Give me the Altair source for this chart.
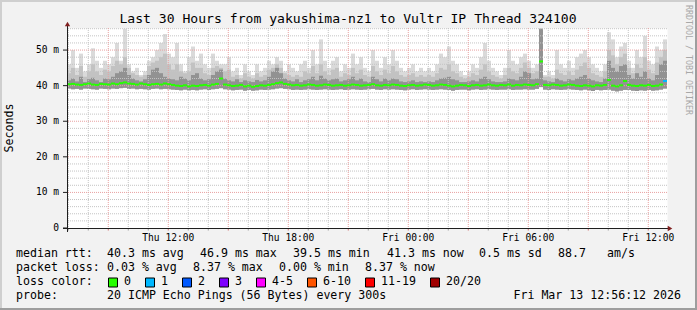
import altair as alt
import pandas as pd

MONO = "DejaVu Sans Mono"
OX, OY = 67, 28          # plot origin inside the 697x310 canvas
PW, PH = 600, 200

# ---------------- texts ----------------
title_text = "Last 30 Hours from yakushima-nz1 to Vultr IP Thread 324100"
y_title = "Seconds"
watermark = "RRDTOOL / TOBI OETIKER"

# ---------------- data ----------------
start_iso = "2026-03-12T06:56:12Z"
end_iso = "2026-03-13T12:56:12Z"
step_minutes = 12
y_max = 56.2

median_ms = [
    40.4, 40.5, 40.3, 40.2, 40.4, 40.6, 40.3, 40.2, 40.5, 40.4,
    40.3, 40.6, 40.4, 40.7, 40.9, 40.6, 40.5, 40.3, 40.6, 40.4,
    40.2, 40.4, 40.5, 40.3, 40.6, 40.4, 40.2, 40.0, 39.9, 40.1,
    39.8, 40.0, 39.9, 40.1, 40.2, 40.0, 40.3, 40.5, 42.0, 40.3,
    40.1, 39.9, 40.0, 40.2, 39.8, 40.0, 39.7, 39.9, 40.1, 40.0,
    40.2, 40.4, 40.7, 40.9, 40.5, 40.3, 40.1, 40.2, 40.0, 40.1,
    40.3, 40.2, 40.0, 40.1, 40.3, 40.2, 40.0, 40.1, 40.2, 40.0,
    40.1, 40.3, 40.2, 40.0, 40.1, 40.2, 40.4, 40.1, 40.0, 40.2,
    40.1, 40.3, 40.2, 40.0, 39.9, 40.1, 40.2, 40.0, 40.1, 40.3,
    40.2, 40.0, 40.1, 40.3, 40.2, 40.0, 39.8, 40.0, 40.2, 40.1,
    39.9, 40.1, 40.2, 40.0, 40.1, 40.3, 40.1, 40.0, 40.2, 40.1,
    40.3, 40.0, 40.2, 40.1, 40.3, 40.2, 40.1, 40.4, 46.8, 40.2,
    40.1, 40.3, 40.2, 40.0, 40.1, 40.3, 40.2, 40.0, 39.9, 40.1,
    40.0, 39.8, 40.1, 40.0, 40.2, 41.6, 40.0, 39.8, 40.1, 41.3,
    40.2, 40.0, 39.9, 40.1, 40.0, 40.2, 39.9, 40.0, 40.3, 41.3,
]
min_ms = [
    39.2, 39.0, 39.1, 38.9, 39.2, 39.1, 39.0, 38.9, 39.2, 39.1,
    39.0, 39.2, 39.1, 39.3, 39.4, 39.1, 39.2, 39.0, 39.1, 39.0,
    38.9, 39.1, 39.2, 39.0, 39.1, 39.0, 38.9, 38.8, 38.7, 38.9,
    38.7, 38.8, 38.7, 38.9, 39.0, 38.8, 39.0, 39.1, 39.3, 39.0,
    38.9, 38.7, 38.8, 38.9, 38.6, 38.8, 38.6, 38.7, 38.9, 38.8,
    38.9, 39.0, 39.2, 39.3, 39.1, 39.0, 38.8, 38.9, 38.8, 38.9,
    39.0, 38.9, 38.8, 38.9, 39.0, 38.9, 38.8, 38.9, 39.0, 38.8,
    38.9, 39.0, 38.9, 38.8, 38.9, 39.0, 39.1, 38.9, 38.8, 39.0,
    38.9, 39.0, 38.9, 38.8, 38.7, 38.9, 39.0, 38.8, 38.9, 39.0,
    38.9, 38.8, 38.9, 39.0, 38.9, 38.8, 38.6, 38.8, 38.9, 38.9,
    38.7, 38.9, 39.0, 38.8, 38.9, 39.0, 38.9, 38.8, 38.9, 38.9,
    39.0, 38.8, 38.9, 38.9, 39.0, 38.9, 38.9, 39.1, 39.6, 38.9,
    38.8, 39.0, 38.9, 38.8, 38.9, 39.0, 38.9, 38.8, 38.7, 38.9,
    38.7, 38.5, 38.8, 38.7, 38.8, 38.9, 38.6, 38.4, 38.6, 38.8,
    38.8, 38.6, 38.5, 38.7, 38.6, 38.8, 38.6, 38.7, 38.9, 39.2,
]
dark_top_ms = [
    41.5, 42.0, 41.2, 42.5, 41.0, 41.8, 42.2, 41.5, 41.0, 42.0,
    41.8, 42.5, 43.5, 44.0, 45.0, 43.0, 42.0, 41.5, 41.2, 41.8,
    43.0, 44.5, 45.0, 43.5, 42.5, 42.0, 41.8, 41.5, 42.5, 42.0,
    41.5, 43.0, 43.5, 42.0, 41.5, 41.8, 43.0, 44.0, 44.5, 42.0,
    41.5, 41.2, 41.8, 41.0, 41.5, 41.2, 41.0, 41.6, 41.2, 41.5,
    42.5, 44.0, 45.0, 43.5, 42.0, 41.5, 41.2, 41.8, 41.0, 41.5,
    41.8, 42.5, 41.5, 42.8, 42.0, 41.5, 41.8, 42.0, 41.2, 41.5,
    41.8, 42.5, 41.5, 42.0, 41.2, 41.0, 42.5, 41.8, 41.2, 42.0,
    41.5, 42.0, 41.8, 41.2, 41.0, 41.2, 41.5, 41.0, 41.2, 41.0,
    41.2, 41.0, 41.5, 42.0, 42.2, 42.5, 41.8, 41.5, 41.0, 41.0,
    41.2, 41.5, 41.2, 42.0, 42.5, 41.8, 41.2, 41.0, 41.0, 41.2,
    42.0, 41.8, 41.5, 42.5, 44.0, 43.5, 41.8, 42.0, 56.0, 41.5,
    41.2, 41.0, 42.0, 41.5, 41.2, 41.8, 41.5, 42.0, 42.5, 43.0,
    42.0, 41.5, 41.2, 41.0, 42.0, 47.0, 45.0, 44.0, 45.5, 46.0,
    43.0, 42.0, 43.5, 42.5, 44.0, 42.0, 41.5, 43.0, 46.0, 47.0,
]
mid_top_ms = [
    43.5, 45.0, 43.0, 45.5, 42.5, 44.0, 46.0, 44.0, 43.0, 44.5,
    44.0, 45.5, 47.0, 46.0, 48.0, 45.0, 43.5, 43.0, 42.5, 43.0,
    45.5, 46.5, 47.0, 48.0, 49.0, 46.0, 44.5, 46.0, 44.0, 43.5,
    44.0, 46.5, 45.0, 45.0, 43.5, 43.0, 45.0, 45.5, 45.0, 44.0,
    44.5, 42.5, 43.0, 42.0, 43.5, 42.5, 42.0, 43.5, 42.5, 43.0,
    44.5, 45.0, 46.0, 45.0, 43.5, 43.0, 42.5, 43.0, 42.5, 44.0,
    43.5, 45.5, 43.5, 46.0, 44.0, 43.0, 44.5, 45.0, 42.5, 43.5,
    43.0, 45.0, 43.5, 44.5, 43.0, 42.5, 45.5, 44.0, 43.0, 44.5,
    43.5, 45.5, 44.0, 43.0, 42.5, 43.0, 43.5, 42.5, 43.0, 42.5,
    43.0, 42.5, 43.5, 45.0, 44.5, 46.0, 44.0, 43.5, 42.5, 42.0,
    42.5, 43.5, 43.0, 44.5, 46.0, 44.0, 43.0, 42.5, 42.0, 43.0,
    45.0, 44.0, 43.5, 45.0, 46.5, 45.0, 43.5, 44.0, 56.0, 42.5,
    42.5, 42.0, 44.5, 43.5, 43.0, 44.0, 43.0, 44.5, 45.5, 46.5,
    45.0, 43.5, 43.0, 42.5, 44.0, 50.0, 48.5, 46.0, 48.0, 49.0,
    45.0, 43.5, 46.0, 45.0, 48.0, 44.5, 43.5, 46.5, 48.0, 50.0,
]
max_ms = [
    46, 50, 45, 49, 44, 46, 50.5, 47, 45, 47,
    46, 48, 52, 47, 56, 46, 44, 45, 43, 44,
    47, 48, 50, 52, 54.5, 49, 48, 52, 46, 44,
    48, 51, 47, 49, 46, 45, 49, 47, 46, 46,
    48, 44, 45, 43, 46, 44, 43, 46, 44, 45,
    47, 46, 48, 47, 44, 46, 45, 44, 46, 47,
    45, 50, 46, 53, 47, 45, 47, 48, 44, 46,
    45, 49, 46, 48, 45, 44, 50, 47, 45, 48,
    46, 50, 47, 45, 44, 45, 46, 44, 45, 44,
    45, 44, 46, 49, 48, 51, 47, 46, 44, 43,
    44, 46, 45, 48, 52, 47, 45, 44, 43, 45,
    50, 47, 46, 48, 49, 47, 45, 46, 56, 43,
    44, 43, 50, 46, 45, 47, 45, 48, 49, 50,
    48, 46, 45, 44, 46, 55, 53, 48, 51, 52,
    47, 45, 50, 48, 54, 47, 46, 51, 50, 53,
]
lost_pings = [0] * 149 + [1]

loss_labels = ["0", "1", "2", "3", "4-5", "6-10", "11-19", "20/20"]
loss_colors = ["#26ff00", "#00b8ff", "#0059ff", "#7e00ff", "#ff00ff", "#ff5500", "#ff0000", "#a10000"]
loss_upper = [0, 1, 2, 3, 5, 10, 19, 20]

y_label_values = [0, 10, 20, 30, 40, 50]
y_label_texts = ["0\u00a0\u00a0", "10 m", "20 m", "30 m", "40 m", "50 m"]
x_label_times = ["2026-03-12T12:00:00Z", "2026-03-12T18:00:00Z", "2026-03-13T00:00:00Z",
                 "2026-03-13T06:00:00Z", "2026-03-13T12:00:00Z"]
x_label_texts = ["Thu 12:00", "Thu 18:00", "Fri 00:00", "Fri 06:00", "Fri 12:00"]

rtt_texts = ["median rtt:", "40.3 ms avg", "46.9 ms max", "39.5 ms min", "41.3 ms now", "0.5 ms sd", "88.7", "am/s"]
loss_texts = ["packet loss:", "0.03 % avg", "8.37 % max", "0.00 % min", "8.37 % now"]
color_head = "loss color:"
probe_texts = ["probe:", "20 ICMP Echo Pings (56 Bytes) every 300s"]
stamp_text = "Fri Mar 13 12:56:12 2026"

# ---------------- layout (absolute pixel positions) ----------------
rtt_x = [16, 107, 200, 293, 387, 479, 558, 607]
loss_x = [16, 107, 193, 279, 365]
row_y = [254, 268, 282, 296]
box_x0 = 108


def iso(t):
    return t.strftime("%Y-%m-%dT%H:%M:%SZ")


def dt(iso_s):
    t = pd.Timestamp(iso_s)
    return alt.DateTime(year=t.year, month=t.month, date=t.day, hours=t.hour,
                        minutes=t.minute, seconds=t.second, utc=True)


def loss_label(n):
    for lab, up in zip(loss_labels, loss_upper):
        if n <= up:
            return lab
    return loss_labels[-1]


t0 = pd.Timestamp(start_iso)
n = len(median_ms)
starts = [t0 + pd.Timedelta(minutes=step_minutes * i) for i in range(n)]
df = pd.DataFrame({
    "start": [iso(s) for s in starts],
    "end": [iso(s + pd.Timedelta(minutes=step_minutes)) for s in starts],
    "med": median_ms, "lo": min_ms, "dark": dark_top_ms, "mid": mid_top_ms, "hi": max_ms,
    "loss": [loss_label(v) for v in lost_pings],
})

hours = pd.date_range("2026-03-12T07:00:00Z", "2026-03-13T12:00:00Z", freq="h")
minor_x = pd.DataFrame({"t": [iso(h) for h in hours if h.hour % 3 != 0]})
major_x = pd.DataFrame({"t": [iso(h) for h in hours if h.hour % 3 == 0]})
minor_y = pd.DataFrame({"v": [v for v in range(2, 57, 2) if v % 10 != 0]})
major_y = pd.DataFrame({"v": [v for v in y_label_values if v > 0]})
y_lab_df = pd.DataFrame({"v": y_label_values, "s": y_label_texts})
x_lab_df = pd.DataFrame({"t": x_label_times, "s": x_label_texts})

xs = alt.Scale(type="utc", domain=[dt(start_iso), dt(end_iso)], nice=False)
ys = alt.Scale(domain=[0, y_max], nice=False, zero=True)


def X(field):
    return alt.X(field, scale=xs, axis=None)


def Y(field):
    return alt.Y(field, scale=ys, axis=None)


base = alt.Chart(df)
smoke_hi = base.mark_rect(color="#dadada").encode(x=X("start:T"), x2="end:T", y=Y("lo:Q"), y2="hi:Q")
smoke_mid = base.mark_rect(color="#c2c2c2").encode(x=X("start:T"), x2="end:T", y=Y("lo:Q"), y2="mid:Q")
smoke_dark = base.mark_rect(color="#929292").encode(x=X("start:T"), x2="end:T", y=Y("lo:Q"), y2="dark:Q")

DASH = [1, 1]
g_minor_x = alt.Chart(minor_x).mark_rule(color="#c4c4c4", strokeDash=DASH).encode(x=X("t:T"))
g_major_x = alt.Chart(major_x).mark_rule(color="#e8a0a0", strokeDash=DASH).encode(x=X("t:T"))
g_minor_y = alt.Chart(minor_y).mark_rule(color="#c4c4c4", strokeDash=DASH).encode(y=Y("v:Q"))
g_major_y = alt.Chart(major_y).mark_rule(color="#e8a0a0", strokeDash=DASH).encode(y=Y("v:Q"))

# small ticks under the x axis and left of the y axis
t_minor_x = alt.Chart(minor_x).mark_rule(color="#a0a0a0").encode(
    x=X("t:T"), y=alt.value(PH), y2=alt.value(PH + 2.5))
t_major_x = alt.Chart(major_x).mark_rule(color="#d07070").encode(
    x=X("t:T"), y=alt.value(PH), y2=alt.value(PH + 2.5))
t_y = alt.Chart(y_lab_df).mark_rule(color="#1f1f1f").encode(
    y=Y("v:Q"), x=alt.value(-4), x2=alt.value(0))

y_labels = alt.Chart(y_lab_df).mark_text(font=MONO, fontSize=9.6, align="right", baseline="middle",
                                         color="#000000").encode(
    y=Y("v:Q"), x=alt.value(-8), text="s:N")
x_labels = alt.Chart(x_lab_df).mark_text(font=MONO, fontSize=9.6, align="center", baseline="middle",
                                         color="#000000").encode(
    x=X("t:T"), y=alt.value(PH + 9.5), text="s:N")

median = base.mark_rule(strokeWidth=2).encode(
    x=X("start:T"), x2="end:T", y=Y("med:Q"),
    color=alt.Color("loss:N", scale=alt.Scale(domain=loss_labels, range=loss_colors), legend=None))

one = pd.DataFrame({"k": [0]})
deco = []


def rel_x(ax):
    return ax - OX


def rel_y(ay):
    return ay - OY


# axis lines and arrows
deco.append(alt.Chart(one).mark_rule(color="#1f1f1f", strokeWidth=1).encode(
    x=alt.value(-4), x2=alt.value(PW + 2), y=alt.value(PH + 0.5)))
deco.append(alt.Chart(one).mark_rule(color="#1f1f1f", strokeWidth=1).encode(
    x=alt.value(0.5), y=alt.value(-3), y2=alt.value(PH + 4)))
deco.append(alt.Chart(one).mark_point(shape="triangle-up", filled=True, size=28, color="#801f1f", opacity=1).encode(
    x=alt.value(0.5), y=alt.value(-4)))
deco.append(alt.Chart(one).mark_point(shape="triangle-right", filled=True, size=28, color="#801f1f", opacity=1).encode(
    x=alt.value(PW + 3), y=alt.value(PH + 0.5)))


def txt(s, ax, ay, size=11.6, align="left", angle=0, color="#000000"):
    return alt.Chart(one).mark_text(text=s, font=MONO, fontSize=size, align=align, baseline="middle",
                                    angle=angle, color=color).encode(
        x=alt.value(rel_x(ax)), y=alt.value(rel_y(ay)))


deco.append(txt(title_text, 348, 19, size=13.1, align="center"))
deco.append(txt(y_title, 10, 128, size=11.6, align="center", angle=270))
deco.append(txt(watermark, 688, 60, size=8.3, align="center", angle=90, color="#a8a8a8"))

for s, x in zip(rtt_texts, rtt_x):
    deco.append(txt(s, x, row_y[0]))
for s, x in zip(loss_texts, loss_x):
    deco.append(txt(s, x, row_y[1]))
deco.append(txt(color_head, 16, row_y[2]))
bx = box_x0
for lab, col in zip(loss_labels, loss_colors):
    deco.append(alt.Chart(one).mark_rect(color=col, stroke="#000000", strokeWidth=1).encode(
        x=alt.value(rel_x(bx) + 0.5), x2=alt.value(rel_x(bx) + 9.5),
        y=alt.value(rel_y(row_y[2]) - 4), y2=alt.value(rel_y(row_y[2]) + 5)))
    deco.append(txt(lab, bx + 16, row_y[2]))
    bx += 30 + 7 * len(lab)
deco.append(txt(probe_texts[0], 16, row_y[3]))
deco.append(txt(probe_texts[1], 107, row_y[3]))
deco.append(txt(stamp_text, 681, row_y[3], align="right"))

# 3D frame of the rrdtool canvas
W, H = 697, 310
frame = [
    ("#cfcfcf", 0, 2, 0, H), ("#cfcfcf", 0, W, 0, 2),
    ("#9e9e9e", W - 2, W, 0, H), ("#9e9e9e", 0, W, H - 2, H),
]
for col, x1, x2, y1, y2 in frame:
    deco.append(alt.Chart(one).mark_rect(color=col).encode(
        x=alt.value(rel_x(x1)), x2=alt.value(rel_x(x2)),
        y=alt.value(rel_y(y1)), y2=alt.value(rel_y(y2))))

chart = alt.layer(
    smoke_hi, smoke_mid, smoke_dark,
    g_minor_x, g_minor_y, g_major_x, g_major_y,
    t_minor_x, t_major_x, t_y, y_labels, x_labels,
    median, *deco
).properties(
    width=PW, height=PH,
    padding={"left": OX, "top": OY, "right": W - OX - PW, "bottom": H - OY - PH},
    autosize=alt.AutoSizeParams(type="none"),
).configure(background="#f2f2f2").configure_view(fill="white", stroke="transparent")

chart.save("out.html", embed_options={"renderer": "svg", "actions": False})
